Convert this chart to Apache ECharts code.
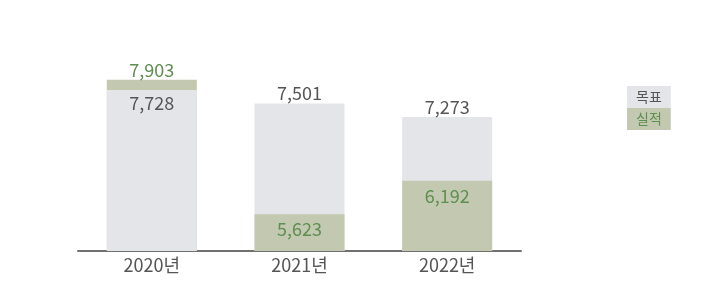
<!DOCTYPE html>
<html>
<head>
<meta charset="utf-8">
<script src="https://cdn.jsdelivr.net/npm/echarts@6/dist/echarts.min.js"></script>
<style>
  html, body { margin: 0; padding: 0; background: #fff; }
  #chart { width: 706px; height: 305px; }
</style>
</head>
<body>
<div id="chart"></div>
<script>
// 데이터
const categories = ["2020년", "2021년", "2022년"];
const targetValues = [7728, 7501, 7273]; // 목표
const actualValues = [7903, 5623, 6192]; // 실적

const GRAY = "#e4e5e8";
const GREEN = "#c3c8b1";
const GRAY_TEXT = "#555555";
const GREEN_TEXT = "#5e8e50";
const FONT = "'Noto Sans CJK KR', 'Noto Sans', sans-serif";

// 큰 값은 뒤, 작은 값은 앞에 그린다
const backData = categories.map((c, i) => {
  const actualBigger = actualValues[i] > targetValues[i];
  return {
    value: Math.max(targetValues[i], actualValues[i]),
    itemStyle: { color: actualBigger ? GREEN : GRAY },
    label: { color: actualBigger ? GREEN_TEXT : GRAY_TEXT },
  };
});
const frontData = categories.map((c, i) => {
  const actualBigger = actualValues[i] > targetValues[i];
  return {
    value: Math.min(targetValues[i], actualValues[i]),
    itemStyle: { color: actualBigger ? GRAY : GREEN },
    label: {
      color: actualBigger ? GRAY_TEXT : GREEN_TEXT,
      distance: actualBigger ? 4 : 6,
    },
  };
});

const fmt = (p) => p.value.toLocaleString("en-US");

const chart = echarts.init(document.getElementById("chart"));
chart.setOption({
  animation: false,
  textStyle: { fontFamily: FONT },
  grid: { left: 78, right: 185, top: 74, bottom: 54, containLabel: false },
  legend: {
    orient: "vertical",
    left: 622,
    top: 86,
    padding: 0,
    itemWidth: 0,
    itemHeight: 0,
    itemGap: 0,
    selectedMode: false,
    data: [
      {
        name: "목표",
        textStyle: { color: GRAY_TEXT, backgroundColor: GRAY, padding: [4, 9, 4, 9], fontSize: 14, fontFamily: FONT },
      },
      {
        name: "실적",
        textStyle: { color: GREEN_TEXT, backgroundColor: GREEN, padding: [4, 9, 4, 9], fontSize: 14, fontFamily: FONT },
      },
    ],
  },
  xAxis: {
    type: "category",
    data: categories,
    axisLine: { lineStyle: { color: "#707070", width: 2 } },
    axisTick: { show: false },
    axisLabel: { color: GRAY_TEXT, fontSize: 18, margin: 5, fontFamily: FONT },
  },
  yAxis: {
    type: "value",
    min: 5000,
    max: 8000,
    show: false,
    splitLine: { show: false },
  },
  series: [
    // 범례용
    { name: "목표", type: "bar", data: [], color: GRAY, barGap: "-100%", barWidth: 90 },
    { name: "실적", type: "bar", data: [], color: GREEN, barGap: "-100%", barWidth: 90 },
    {
      name: "back",
      type: "bar",
      data: backData,
      barWidth: 90,
      barGap: "-100%",
      label: {
        show: true,
        position: "top",
        distance: 1,
        fontSize: 18,
        fontFamily: FONT,
        formatter: fmt,
      },
    },
    {
      name: "front",
      type: "bar",
      data: frontData,
      barWidth: 90,
      barGap: "-100%",
      label: {
        show: true,
        position: "insideTop",
        fontSize: 18,
        fontFamily: FONT,
        formatter: fmt,
      },
    },
  ],
});
</script>
</body>
</html>
